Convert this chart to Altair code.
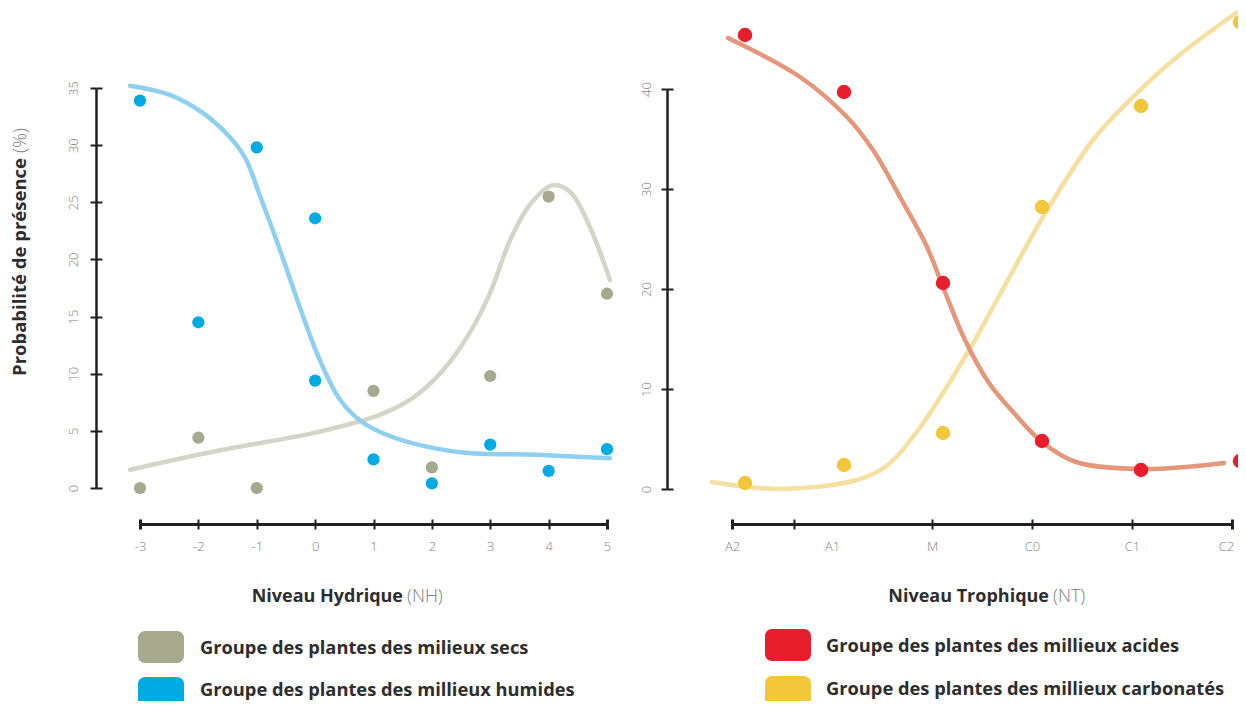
import json
import altair as alt
import pandas as pd

# ---------------- data ----------------
# Left panel : Niveau Hydrique (NH)
nh_ticks = [-3, -2, -1, 0, 1, 2, 3, 4, 5]
secs_x = [-3, -2, -1, 1, 2, 3, 4, 5]
secs_y = [0.0, 4.4, 0.0, 8.5, 1.8, 9.8, 25.5, 17.0]
hum_x = [-3, -2, -1, 0, 0, 1, 2, 3, 4, 5]
hum_y = [33.9, 14.5, 29.8, 23.6, 9.4, 2.5, 0.4, 3.8, 1.5, 3.4]
secs_curve_x = [-3.17, -1.63, -0.04, 1.11, 1.68, 2.19, 2.65, 3.00, 3.34, 3.68, 4.07, 4.37, 4.71, 5.05]
secs_curve_y = [1.6, 3.3, 4.8, 6.4, 7.9, 10.3, 13.6, 17.1, 21.7, 24.8, 26.5, 25.9, 22.8, 18.2]
hum_curve_x = [-3.17, -2.49, -1.92, -1.46, -1.20, -0.94, -0.60, -0.26, 0.08, 0.43, 0.77, 1.11, 1.68, 2.53, 3.80, 5.05]
hum_curve_y = [35.2, 34.4, 32.8, 30.7, 28.9, 25.5, 20.8, 15.8, 11.2, 7.7, 5.9, 4.9, 3.9, 3.1, 2.9, 2.6]
left_y_ticks = [0, 5, 10, 15, 20, 25, 30, 35]

# Right panel : Niveau Trophique (NT)
nt_labels = ["A2", "A1", "M", "C0", "C1", "C2"]
nt_tick_values = [0, 0.62, 1, 2, 3, 4, 5]
nt_x = [0.13, 1.12, 2.11, 3.10, 4.09, 5.08]
acid_y = [45.4, 39.7, 20.6, 4.8, 1.9, 2.8]
carb_y = [0.6, 2.4, 5.6, 28.2, 38.3, 46.7]
acid_curve_x = [-0.04, 0.68, 1.15, 1.41, 1.68, 1.95, 2.11, 2.33, 2.57, 2.82, 3.10, 3.44, 4.10, 4.92]
acid_curve_y = [45.1, 41.2, 37.2, 33.9, 29.2, 24.2, 20.2, 14.9, 10.6, 7.6, 4.7, 2.7, 2.0, 2.6]
carb_curve_x = [-0.20, 0.48, 1.25, 1.53, 1.84, 2.36, 2.66, 3.11, 3.61, 4.01, 4.45, 5.04]
carb_curve_y = [0.7, 0.0, 0.9, 2.2, 5.6, 13.7, 19.1, 27.2, 34.9, 39.2, 43.2, 47.6]
right_y_ticks = [0, 10, 20, 30, 40]

left_groups = ["Groupe des plantes des milieux secs", "Groupe des plantes des millieux humides"]
right_groups = ["Groupe des plantes des millieux acides", "Groupe des plantes des millieux carbonatés"]

# ---------------- styles ----------------
FONT = "Open Sans"
W, H = 1230, 693
DARK = "#231f20"
LABEL = "#808080"
TITLE = "#2d2d2d"
C_SECS, C_SECS_L = "#a6a98d", "#d4d5c6"
C_HUM, C_HUM_L = "#00abe4", "#8fd0f0"
C_ACID, C_ACID_L = "#e91e2d", "#e4977a"
C_CARB, C_CARB_L = "#f2c83a", "#f6e0a0"

X_AXIS_Y = 516          # svg y of both x axes
LEFT_Y_AXIS_X = 88      # svg x of left y axis
RIGHT_Y_AXIS_X = 659    # svg x of right y axis

lx_scale = alt.Scale(domain=[-3, 5], range=[132, 599], nice=False, zero=False)
ly_scale = alt.Scale(domain=[0, 35], range=[480, 80], nice=False, zero=False)
rx_scale = alt.Scale(domain=[0, 5], range=[724, 1224], nice=False, zero=False)
ry_scale = alt.Scale(domain=[0, 40], range=[481, 81], nice=False, zero=False)


def tw(lo, hi):
    return {"condition": {"test": f"datum.value == {lo} || datum.value == {hi}", "value": 3}, "value": 2}


def x_axis_main(values, ends, label_expr, tick_opacity=None, label_offset=None):
    kw = dict(orient="bottom", offset=-(H - X_AXIS_Y), values=values, title=None, grid=False,
              domainColor=DARK, domainWidth=3, tickColor=DARK, tickSize=5, tickWidth=tw(*ends),
              labelColor=LABEL, labelFont=FONT, labelFontSize=13, labelFontWeight=300,
              labelPadding=11, labelFlush=False, labelOverlap=False, labelExpr=label_expr)
    if tick_opacity:
        kw["tickOpacity"] = tick_opacity
    if label_offset:
        kw["labelOffset"] = label_offset
    return alt.Axis(**kw)


def x_axis_mirror(values, ends, tick_opacity=None):
    kw = dict(orient="top", offset=-X_AXIS_Y, values=values, title=None, grid=False, labels=False,
              domainColor=DARK, domainWidth=3, tickColor=DARK, tickSize=5, tickWidth=tw(*ends))
    if tick_opacity:
        kw["tickOpacity"] = tick_opacity
    return alt.Axis(**kw)


def y_axis_main(values, axis_x, pad):
    return alt.Axis(orient="left", offset=-axis_x, values=values, title=None, grid=False,
                    domainColor=DARK, domainWidth=2, tickColor=DARK, tickSize=6, tickWidth=2,
                    labelColor=LABEL, labelFont=FONT, labelFontSize=13, labelFontWeight=300,
                    labelAngle=270, labelAlign="center", labelBaseline="middle",
                    labelPadding=pad, labelFlush=False, labelOverlap=False)


def y_axis_mirror(values, axis_x):
    return alt.Axis(orient="right", offset=-(W - axis_x), values=values, title=None, grid=False,
                    labels=False, domainColor=DARK, domainWidth=2, tickColor=DARK, tickSize=6,
                    tickWidth=2)


def curve(xs, ys, color, xs_scale, ys_scale, ax=None, ay=None):
    df = pd.DataFrame({"x": xs, "y": ys})
    return alt.Chart(df).mark_line(color=color, strokeWidth=4.5, interpolate="catmull-rom",
                                   strokeCap="round").encode(
        x=alt.X("x:Q", scale=xs_scale, axis=ax),
        y=alt.Y("y:Q", scale=ys_scale, axis=ay))


def points(xs, ys, color, size, xs_scale, ys_scale, ax=None, ay=None):
    df = pd.DataFrame({"x": xs, "y": ys})
    return alt.Chart(df).mark_circle(color=color, opacity=1, size=size).encode(
        x=alt.X("x:Q", scale=xs_scale, axis=ax),
        y=alt.Y("y:Q", scale=ys_scale, axis=ay))


# ---------------- left panel ----------------
nh_expr = "datum.value < 0 ? '-' + abs(datum.value) : '' + datum.value"
left_panel = alt.layer(
    curve(secs_curve_x, secs_curve_y, C_SECS_L, lx_scale, ly_scale,
          x_axis_mirror(nh_ticks, (-3, 5)), y_axis_mirror(left_y_ticks, LEFT_Y_AXIS_X)),
    curve(hum_curve_x, hum_curve_y, C_HUM_L, lx_scale, ly_scale),
    points(secs_x, secs_y, C_SECS, 150, lx_scale, ly_scale,
           x_axis_main(nh_ticks, (-3, 5), nh_expr), y_axis_main(left_y_ticks, LEFT_Y_AXIS_X, 17)),
    points(hum_x, hum_y, C_HUM, 150, lx_scale, ly_scale),
).resolve_axis(x="independent", y="independent")

# ---------------- right panel ----------------
nt_expr = ("datum.value == 0.62 ? '' : " + json.dumps(nt_labels) + "[round(datum.value)]")
hide_one = {"condition": {"test": "datum.value == 1", "value": 0}, "value": 1}
last_in = {"condition": {"test": "datum.value == 5", "value": -6}, "value": 0}
right_panel = alt.layer(
    curve(carb_curve_x, carb_curve_y, C_CARB_L, rx_scale, ry_scale,
          x_axis_mirror(nt_tick_values, (0, 5), hide_one), y_axis_mirror(right_y_ticks, RIGHT_Y_AXIS_X)),
    curve(acid_curve_x, acid_curve_y, C_ACID_L, rx_scale, ry_scale),
    points(nt_x, acid_y, C_ACID, 210, rx_scale, ry_scale,
           x_axis_main(nt_tick_values, (0, 5), nt_expr, hide_one, last_in),
           y_axis_main(right_y_ticks, RIGHT_Y_AXIS_X, 15)),
    points(nt_x, carb_y, C_CARB, 210, rx_scale, ry_scale),
).resolve_axis(x="independent", y="independent")


# ---------------- titles & legends ----------------
def txt(s, x, y, size, weight, color, align, angle=None):
    kw = dict(align=align, baseline="middle", font=FONT, fontSize=size, fontWeight=weight, color=color)
    if angle is not None:
        kw["angle"] = angle
    return alt.Chart(pd.DataFrame({"t": [s]})).mark_text(**kw).encode(
        text="t:N", x=alt.value(x), y=alt.value(y))


def swatch(name, color, x0, y0):
    return alt.Chart(pd.DataFrame({"g": [name]})).mark_rect(color=color, cornerRadius=7).encode(
        x=alt.value(x0), x2=alt.value(x0 + 46), y=alt.value(y0), y2=alt.value(y0 + 32))


decor = [
    txt("Niveau Hydrique", 395, 589, 18, 700, TITLE, "right"),
    txt("(NH)", 399, 589, 18, 300, LABEL, "left"),
    txt("Niveau Trophique", 1041, 589, 18, 700, TITLE, "right"),
    txt("(NT)", 1045, 589, 18, 300, LABEL, "left"),
    txt("Probabilité de présence", 12, 150, 18.5, 700, TITLE, "right", 270),
    txt("(%)", 12, 145, 18.5, 300, LABEL, "left", 270),
    swatch(left_groups[0], C_SECS, 130, 623),
    swatch(left_groups[1], C_HUM, 130, 669),
    txt(left_groups[0], 192, 641, 18.3, 700, TITLE, "left"),
    txt(left_groups[1], 192, 683, 18.3, 700, TITLE, "left"),
    swatch(right_groups[0], C_ACID, 757, 621),
    swatch(right_groups[1], C_CARB, 757, 668),
    txt(right_groups[0], 818, 639, 18.3, 700, TITLE, "left"),
    txt(right_groups[1], 818, 682, 18.3, 700, TITLE, "left"),
]

chart = alt.layer(left_panel, right_panel, *decor).resolve_scale(
    x="independent", y="independent"
).properties(
    width=W, height=H, autosize=alt.AutoSizeParams(type="none"), padding=0, background="white"
).configure_view(strokeWidth=0)

chart.save("out.html", embed_options={"renderer": "svg", "actions": False})
